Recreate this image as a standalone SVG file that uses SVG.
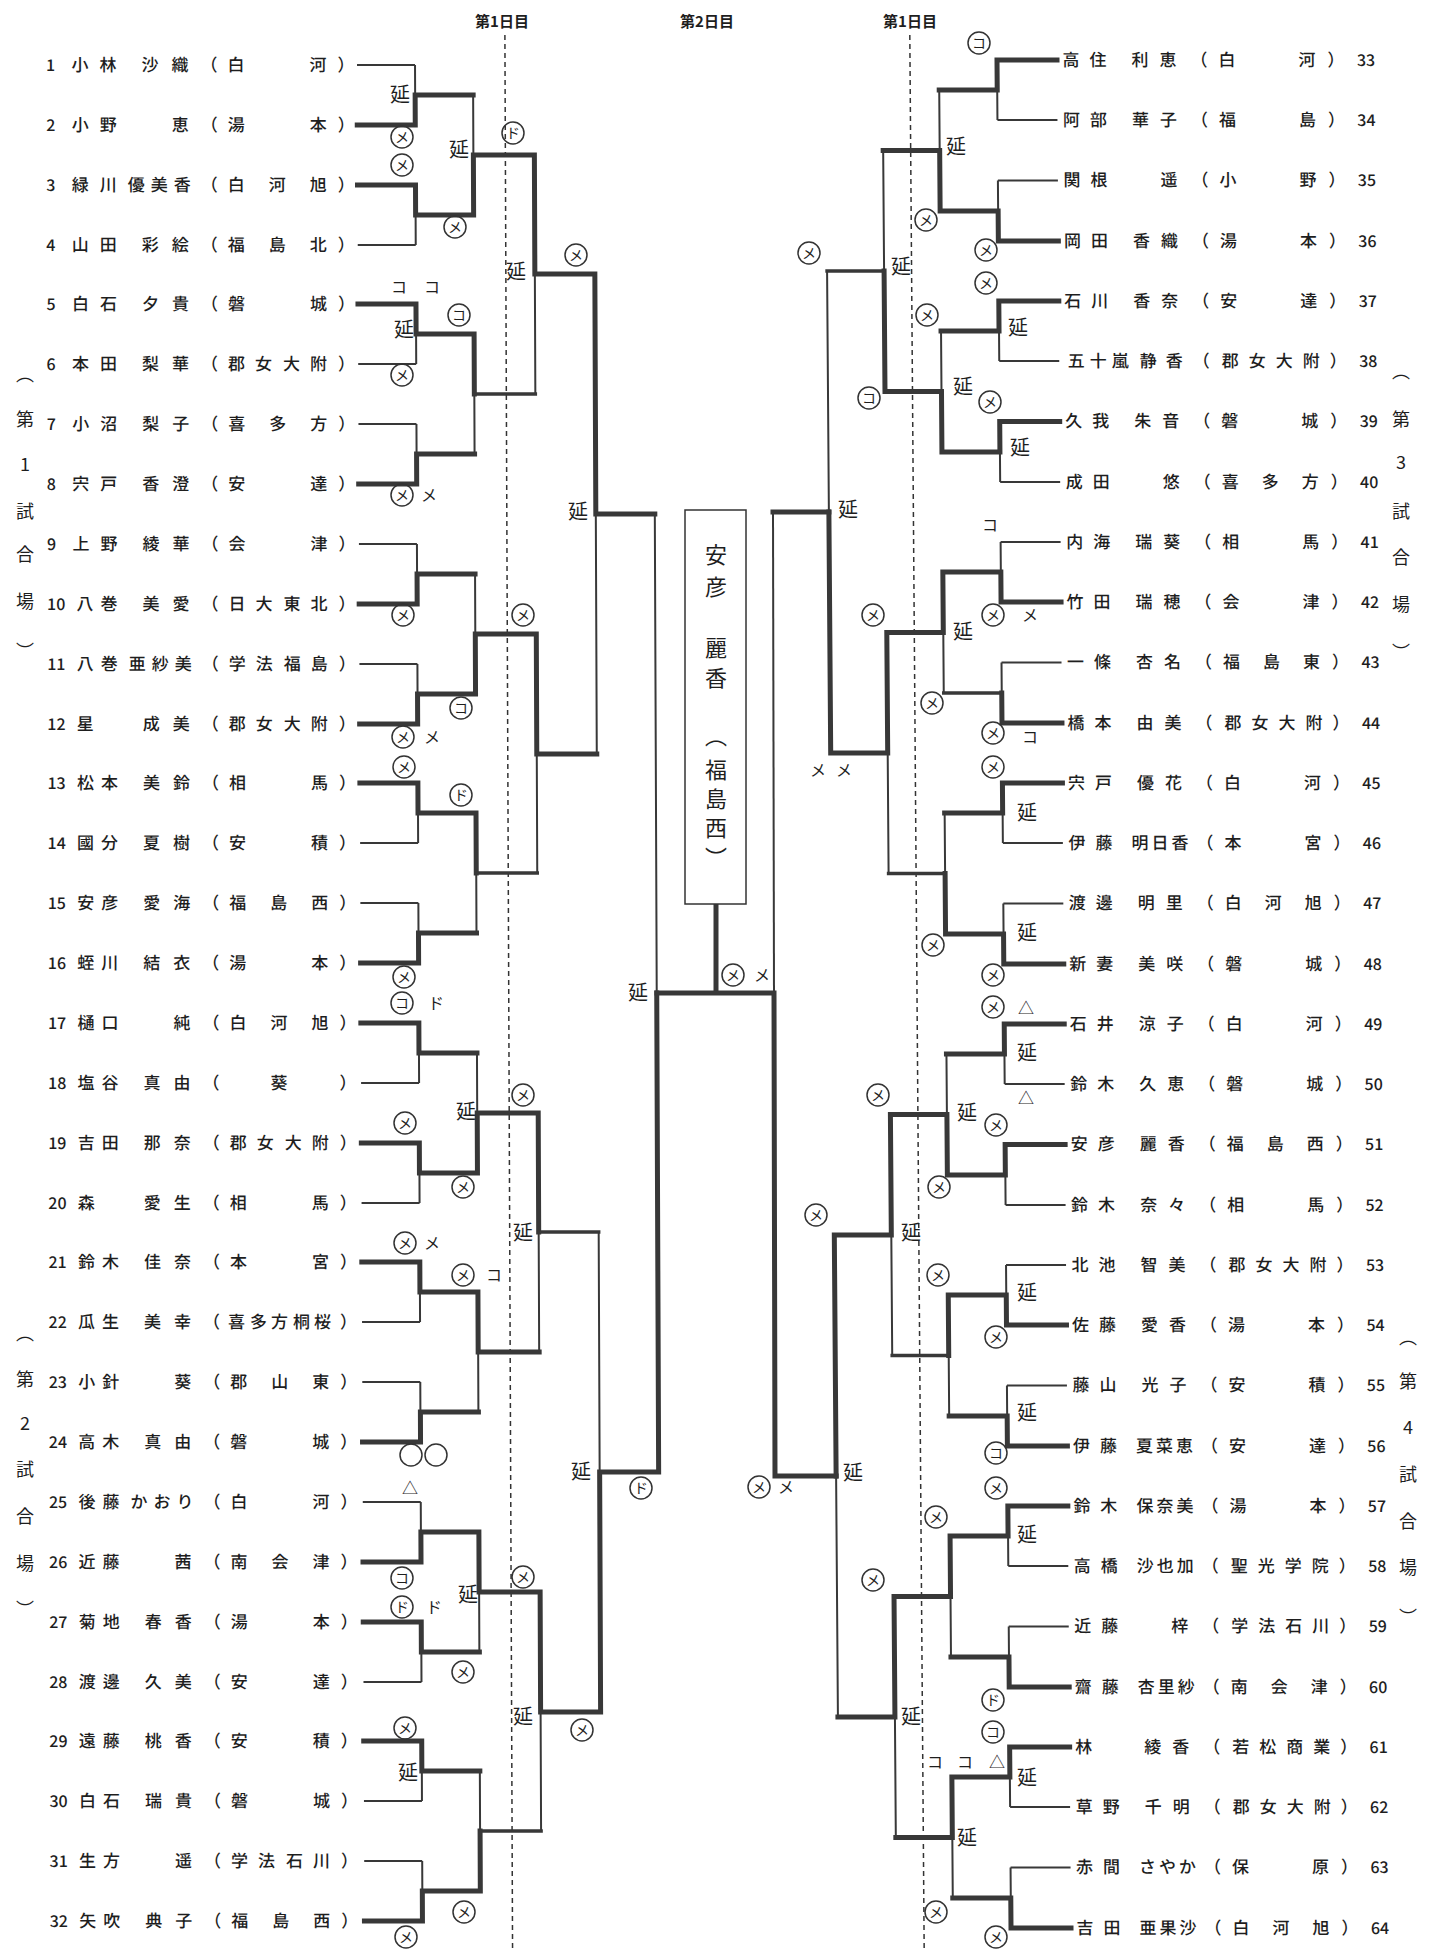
<svg xmlns="http://www.w3.org/2000/svg" width="1435" height="1949" viewBox="0 0 1435 1949">
<style>
.t{fill:none;stroke:#383838;stroke-width:2}
.k{fill:none;stroke:#383838;stroke-width:5;stroke-linecap:square}
.m{fill:none;stroke:#383838;stroke-width:3.5;stroke-linecap:square}
.d{fill:none;stroke:#333;stroke-width:1.5;stroke-dasharray:5 4}
text{font-family:"Noto Sans CJK JP","Noto Sans CJK SC",sans-serif;fill:#1e1e1e}
.nm{font-size:17px;text-anchor:middle;font-weight:500}
.no{font-size:16px;font-weight:500}
.nr{font-size:16px;text-anchor:middle;font-weight:500}
.hd{font-size:15px;font-weight:bold;text-anchor:middle}
.sd{font-size:18px;text-anchor:middle}
.en{font-size:20px;text-anchor:middle}
.pm{font-size:16px;text-anchor:middle}
.cm circle,.oo{fill:none;stroke:#333;stroke-width:1.5}
.cm text{font-size:14px;text-anchor:middle}
.bx{font-size:22px;text-anchor:middle}
</style>
<rect width="1435" height="1949" fill="#fff"/>

<g id="headers">
<text class="hd" x="502" y="27">第1日目</text>
<text class="hd" x="707" y="27">第2日目</text>
<text class="hd" x="910" y="27">第1日目</text>
</g>

<g id="connectors">
<g id="left-bracket" transform="matrix(1 0 0.004 1 -0.24 0)">
<path class="d" d="M505 35V1949"/>
<path class="t" d="M357 65H415M357 245H415M357 364H415M357 424H415M357 544H415M357 664H415M357 843H415M357 903H415M357 1083H415M357 1203H415M357 1322H415M357 1382H415M357 1502H415M357 1682H415M357 1801H415M357 1861H415
M415 65V125M415 185V245M415 304V364M415 424V484M415 544V604M415 664V724M415 783V843M415 903V963M415 1023V1083M415 1143V1203M415 1262V1322M415 1382V1442M415 1502V1562M415 1622V1682M415 1741V1801M415 1861V1921
M473 95V215M473 334V454M473 574V694M473 813V933M473 1053V1173M473 1292V1412M473 1532V1652M473 1771V1891
M534 155V394M534 634V873M534 1113V1352M534 1592V1831
M594 274V754M594 1232V1712
M653 514V1472"/>
<path class="k" d="M357 125H415V95H473M357 185H415V215H473M357 304H415V334H473M357 484H415V454H473M357 604H415V574H473M357 724H415V694H473M357 783H415V813H473M357 963H415V933H473M357 1023H415V1053H473M357 1143H415V1173H473M357 1262H415V1292H473M357 1442H415V1412H473M357 1562H415V1532H473M357 1622H415V1652H473M357 1741H415V1771H473M357 1921H415V1891H473
M473 215V155H534M473 334V394M473 694V634H534M473 813V873M473 1173V1113H534M473 1292V1352H534M473 1532V1592H534M473 1891V1831
M534 155V274H594M534 634V754H594M534 1113V1232M534 1592V1712H594
M594 274V514H653M594 1712V1472H653V993"/>
<path class="m" d="M473 394H534M473 873H534M473 1831H534M534 1232H594"/>
</g>
<g id="right-bracket" transform="matrix(1 0 0.0075 1 -0.45 0)">
<path class="d" d="M910 35V1949"/>
<path class="t" d="M1057 120H997M1057 180.5H997M1057 361H997M1057 482H997M1057 542H997M1057 662.5H997M1057 843H997M1057 903.5H997M1057 1084H997M1057 1205H997M1057 1265H997M1057 1385.5H997M1057 1566H997M1057 1626.5H997M1057 1807H997M1057 1867.5H997
M997 60V120M997 180.5V241M997 301V361M997 421.5V482M997 542V602M997 662.5V723M997 783V843M997 903.5V964M997 1024V1084M997 1144.5V1205M997 1265V1325M997 1385.5V1446M997 1506V1566M997 1626.5V1687M997 1747V1807M997 1867.5V1928
M939 90V211M939 331V452M939 572V693M939 813V934M939 1054V1175M939 1295V1416M939 1536V1657M939 1777V1898
M882.5 150.5V391.5M882.5 632.5V873.5M882.5 1114.5V1355.5M882.5 1596.5V1837.5
M825.5 271V753M825.5 1235V1717"/>
<path class="k" d="M1057 60H997V90H939M1057 241H997V211H939M1057 301H997V331H939M1057 421.5H997V452H939M1057 602H997V572H939M1057 723H997V693M1057 783H997V813H939M1057 964H997V934H939M1057 1024H997V1054H939M1057 1144.5H997V1175H939M1057 1325H997V1295H939M1057 1446H997V1416H939M1057 1506H997V1536H939M1057 1687H997V1657H939M1057 1747H997V1777H939M1057 1928H997V1898H939
M939 211V150.5H882.5M939 452V391.5H882.5M939 572V632.5H882.5M939 934V873.5M939 1175V1114.5H882.5M939 1295V1355.5M939 1536V1596.5H882.5M939 1777V1837.5H882.5
M882.5 391.5V271M882.5 632.5V753H825.5M882.5 1114.5V1235H825.5M882.5 1596.5V1717H825.5
M825.5 753V512M825.5 1235V1476"/>
<path class="m" d="M997 693H939M939 873.5H882.5M939 1355.5H882.5M882.5 271H825.5"/>
</g>
<g id="final">
<path class="t" d="M773 512L774 993"/>
<path class="k" d="M828.9 512H773M836.1 1476H775L774 993M657 993H774M716 904V993"/>
</g>
</g>

<g id="champion">
<rect x="685" y="510" width="61" height="394" fill="#fff" stroke="#333" stroke-width="1.5"/>
<text class="bx" x="716" y="563">安</text>
<text class="bx" x="716" y="595">彦</text>
<text class="bx" x="716" y="656">麗</text>
<text class="bx" x="716" y="686">香</text>
<text class="bx" x="716" y="744">︵</text>
<text class="bx" x="716" y="778">福</text>
<text class="bx" x="716" y="807">島</text>
<text class="bx" x="716" y="836">西</text>
<text class="bx" x="716" y="866">︶</text>
</g>

<g id="venue-labels">
<g id="venue1"><text class="sd" x="25" y="381">︵</text><text class="sd" x="25" y="426">第</text><text class="sd" x="25" y="471">1</text><text class="sd" x="25" y="518">試</text><text class="sd" x="25" y="561">合</text><text class="sd" x="25" y="608">場</text><text class="sd" x="25" y="658">︶</text></g>
<g id="venue2"><text class="sd" x="25" y="1340">︵</text><text class="sd" x="25" y="1386">第</text><text class="sd" x="25" y="1430">2</text><text class="sd" x="25" y="1476">試</text><text class="sd" x="25" y="1523">合</text><text class="sd" x="25" y="1570">場</text><text class="sd" x="25" y="1616">︶</text></g>
<g id="venue3"><text class="sd" x="1401" y="378">︵</text><text class="sd" x="1401" y="426">第</text><text class="sd" x="1401" y="469">3</text><text class="sd" x="1401" y="518">試</text><text class="sd" x="1401" y="564">合</text><text class="sd" x="1401" y="611">場</text><text class="sd" x="1401" y="659">︶</text></g>
<g id="venue4"><text class="sd" x="1408" y="1344">︵</text><text class="sd" x="1408" y="1388">第</text><text class="sd" x="1408" y="1434">4</text><text class="sd" x="1408" y="1481">試</text><text class="sd" x="1408" y="1528">合</text><text class="sd" x="1408" y="1574">場</text><text class="sd" x="1408" y="1624">︶</text></g>
</g>

<g id="left-players" transform="matrix(1 0 0.002 1 -0.13 0)">
<g id="p1"><text class="no" x="46" y="71">1</text><text class="nm" x="80 108 150 180 209 236 318 346" y="71">小林沙織（白河）</text></g>
<g id="p2"><text class="no" x="46" y="131">2</text><text class="nm" x="80 108 180 209 236 318 346" y="131">小野恵（湯本）</text></g>
<g id="p3"><text class="no" x="46" y="191">3</text><text class="nm" x="80 108 136 159 182 209 236 277 318 346" y="191">緑川優美香（白河旭）</text></g>
<g id="p4"><text class="no" x="46" y="251">4</text><text class="nm" x="80 108 150 180 209 236 277 318 346" y="251">山田彩絵（福島北）</text></g>
<g id="p5"><text class="no" x="46" y="310">5</text><text class="nm" x="80 108 150 180 209 236 318 346" y="310">白石夕貴（磐城）</text></g>
<g id="p6"><text class="no" x="46" y="370">6</text><text class="nm" x="80 108 150 180 209 236 263 291 318 346" y="370">本田梨華（郡女大附）</text></g>
<g id="p7"><text class="no" x="46" y="430">7</text><text class="nm" x="80 108 150 180 209 236 277 318 346" y="430">小沼梨子（喜多方）</text></g>
<g id="p8"><text class="no" x="46" y="490">8</text><text class="nm" x="80 108 150 180 209 236 318 346" y="490">宍戸香澄（安達）</text></g>
<g id="p9"><text class="no" x="46" y="550">9</text><text class="nm" x="80 108 150 180 209 236 318 346" y="550">上野綾華（会津）</text></g>
<g id="p10"><text class="no" x="46" y="610">10</text><text class="nm" x="84 108 150 180 209 236 263 291 318 346" y="610">八巻美愛（日大東北）</text></g>
<g id="p11"><text class="no" x="46" y="670">11</text><text class="nm" x="84 108 136 159 182 209 236 263 291 318 346" y="670">八巻亜紗美（学法福島）</text></g>
<g id="p12"><text class="no" x="46" y="730">12</text><text class="nm" x="84 150 180 209 236 263 291 318 346" y="730">星成美（郡女大附）</text></g>
<g id="p13"><text class="no" x="46" y="789">13</text><text class="nm" x="84 108 150 180 209 236 318 346" y="789">松本美鈴（相馬）</text></g>
<g id="p14"><text class="no" x="46" y="849">14</text><text class="nm" x="84 108 150 180 209 236 318 346" y="849">國分夏樹（安積）</text></g>
<g id="p15"><text class="no" x="46" y="909">15</text><text class="nm" x="84 108 150 180 209 236 277 318 346" y="909">安彦愛海（福島西）</text></g>
<g id="p16"><text class="no" x="46" y="969">16</text><text class="nm" x="84 108 150 180 209 236 318 346" y="969">蛭川結衣（湯本）</text></g>
<g id="p17"><text class="no" x="46" y="1029">17</text><text class="nm" x="84 108 180 209 236 277 318 346" y="1029">樋口純（白河旭）</text></g>
<g id="p18"><text class="no" x="46" y="1089">18</text><text class="nm" x="84 108 150 180 209 277 346" y="1089">塩谷真由（葵）</text></g>
<g id="p19"><text class="no" x="46" y="1149">19</text><text class="nm" x="84 108 150 180 209 236 263 291 318 346" y="1149">吉田那奈（郡女大附）</text></g>
<g id="p20"><text class="no" x="46" y="1209">20</text><text class="nm" x="84 150 180 209 236 318 346" y="1209">森愛生（相馬）</text></g>
<g id="p21"><text class="no" x="46" y="1268">21</text><text class="nm" x="84 108 150 180 209 236 318 346" y="1268">鈴木佳奈（本宮）</text></g>
<g id="p22"><text class="no" x="46" y="1328">22</text><text class="nm" x="84 108 150 180 209 234 256 277 299 320 346" y="1328">瓜生美幸（喜多方桐桜）</text></g>
<g id="p23"><text class="no" x="46" y="1388">23</text><text class="nm" x="84 108 180 209 236 277 318 346" y="1388">小針葵（郡山東）</text></g>
<g id="p24"><text class="no" x="46" y="1448">24</text><text class="nm" x="84 108 150 180 209 236 318 346" y="1448">高木真由（磐城）</text></g>
<g id="p25"><text class="no" x="46" y="1508">25</text><text class="nm" x="84 108 136 159 182 209 236 318 346" y="1508">後藤かおり（白河）</text></g>
<g id="p26"><text class="no" x="46" y="1568">26</text><text class="nm" x="84 108 180 209 236 277 318 346" y="1568">近藤茜（南会津）</text></g>
<g id="p27"><text class="no" x="46" y="1628">27</text><text class="nm" x="84 108 150 180 209 236 318 346" y="1628">菊地春香（湯本）</text></g>
<g id="p28"><text class="no" x="46" y="1688">28</text><text class="nm" x="84 108 150 180 209 236 318 346" y="1688">渡邊久美（安達）</text></g>
<g id="p29"><text class="no" x="46" y="1747">29</text><text class="nm" x="84 108 150 180 209 236 318 346" y="1747">遠藤桃香（安積）</text></g>
<g id="p30"><text class="no" x="46" y="1807">30</text><text class="nm" x="84 108 150 180 209 236 318 346" y="1807">白石瑞貴（磐城）</text></g>
<g id="p31"><text class="no" x="46" y="1867">31</text><text class="nm" x="84 108 180 209 236 263 291 318 346" y="1867">生方遥（学法石川）</text></g>
<g id="p32"><text class="no" x="46" y="1927">32</text><text class="nm" x="84 108 150 180 209 236 277 318 346" y="1927">矢吹典子（福島西）</text></g>
</g>

<g id="right-players" transform="matrix(1 0 0.0075 1 -0.45 0)">
<g id="p33"><text class="nm" x="1071 1098 1140 1168 1199 1227 1307 1336" y="66">高住利恵（白河）</text><text class="nr" x="1366" y="66">33</text></g>
<g id="p34"><text class="nm" x="1071 1098 1140 1168 1199 1227 1307 1336" y="126">阿部華子（福島）</text><text class="nr" x="1366" y="126">34</text></g>
<g id="p35"><text class="nm" x="1071 1098 1168 1199 1227 1307 1336" y="186.5">関根遥（小野）</text><text class="nr" x="1366" y="186.5">35</text></g>
<g id="p36"><text class="nm" x="1071 1098 1140 1168 1199 1227 1307 1336" y="247">岡田香織（湯本）</text><text class="nr" x="1366" y="247">36</text></g>
<g id="p37"><text class="nm" x="1071 1098 1140 1168 1199 1227 1307 1336" y="307">石川香奈（安達）</text><text class="nr" x="1366" y="307">37</text></g>
<g id="p38"><text class="nm" x="1074 1096 1118 1146 1172 1199 1228 1255 1282 1309 1336" y="367">五十嵐静香（郡女大附）</text><text class="nr" x="1366" y="367">38</text></g>
<g id="p39"><text class="nm" x="1071 1098 1140 1168 1199 1227 1307 1336" y="427.5">久我朱音（磐城）</text><text class="nr" x="1366" y="427.5">39</text></g>
<g id="p40"><text class="nm" x="1071 1098 1168 1199 1227 1267 1307 1336" y="488">成田悠（喜多方）</text><text class="nr" x="1366" y="488">40</text></g>
<g id="p41"><text class="nm" x="1071 1098 1140 1168 1199 1227 1307 1336" y="548">内海瑞葵（相馬）</text><text class="nr" x="1366" y="548">41</text></g>
<g id="p42"><text class="nm" x="1071 1098 1140 1168 1199 1227 1307 1336" y="608">竹田瑞穂（会津）</text><text class="nr" x="1366" y="608">42</text></g>
<g id="p43"><text class="nm" x="1071 1098 1140 1168 1199 1227 1267 1307 1336" y="668.5">一條杏名（福島東）</text><text class="nr" x="1366" y="668.5">43</text></g>
<g id="p44"><text class="nm" x="1071 1098 1140 1168 1199 1228 1255 1282 1309 1336" y="729">橋本由美（郡女大附）</text><text class="nr" x="1366" y="729">44</text></g>
<g id="p45"><text class="nm" x="1071 1098 1140 1168 1199 1227 1307 1336" y="789">宍戸優花（白河）</text><text class="nr" x="1366" y="789">45</text></g>
<g id="p46"><text class="nm" x="1071 1098 1134 1154 1174 1199 1227 1307 1336" y="849">伊藤明日香（本宮）</text><text class="nr" x="1366" y="849">46</text></g>
<g id="p47"><text class="nm" x="1071 1098 1140 1168 1199 1227 1267 1307 1336" y="909.5">渡邊明里（白河旭）</text><text class="nr" x="1366" y="909.5">47</text></g>
<g id="p48"><text class="nm" x="1071 1098 1140 1168 1199 1227 1307 1336" y="970">新妻美咲（磐城）</text><text class="nr" x="1366" y="970">48</text></g>
<g id="p49"><text class="nm" x="1071 1098 1140 1168 1199 1227 1307 1336" y="1030">石井涼子（白河）</text><text class="nr" x="1366" y="1030">49</text></g>
<g id="p50"><text class="nm" x="1071 1098 1140 1168 1199 1227 1307 1336" y="1090">鈴木久恵（磐城）</text><text class="nr" x="1366" y="1090">50</text></g>
<g id="p51"><text class="nm" x="1071 1098 1140 1168 1199 1227 1267 1307 1336" y="1150.5">安彦麗香（福島西）</text><text class="nr" x="1366" y="1150.5">51</text></g>
<g id="p52"><text class="nm" x="1071 1098 1140 1168 1199 1227 1307 1336" y="1211">鈴木奈々（相馬）</text><text class="nr" x="1366" y="1211">52</text></g>
<g id="p53"><text class="nm" x="1071 1098 1140 1168 1199 1228 1255 1282 1309 1336" y="1271">北池智美（郡女大附）</text><text class="nr" x="1366" y="1271">53</text></g>
<g id="p54"><text class="nm" x="1071 1098 1140 1168 1199 1227 1307 1336" y="1331">佐藤愛香（湯本）</text><text class="nr" x="1366" y="1331">54</text></g>
<g id="p55"><text class="nm" x="1071 1098 1140 1168 1199 1227 1307 1336" y="1391.5">藤山光子（安積）</text><text class="nr" x="1366" y="1391.5">55</text></g>
<g id="p56"><text class="nm" x="1071 1098 1134 1154 1174 1199 1227 1307 1336" y="1452">伊藤夏菜恵（安達）</text><text class="nr" x="1366" y="1452">56</text></g>
<g id="p57"><text class="nm" x="1071 1098 1134 1154 1174 1199 1227 1307 1336" y="1512">鈴木保奈美（湯本）</text><text class="nr" x="1366" y="1512">57</text></g>
<g id="p58"><text class="nm" x="1071 1098 1134 1154 1174 1199 1228 1255 1282 1309 1336" y="1572">高橋沙也加（聖光学院）</text><text class="nr" x="1366" y="1572">58</text></g>
<g id="p59"><text class="nm" x="1071 1098 1168 1199 1228 1255 1282 1309 1336" y="1632.5">近藤梓（学法石川）</text><text class="nr" x="1366" y="1632.5">59</text></g>
<g id="p60"><text class="nm" x="1071 1098 1134 1154 1174 1199 1227 1267 1307 1336" y="1693">齋藤杏里紗（南会津）</text><text class="nr" x="1366" y="1693">60</text></g>
<g id="p61"><text class="nm" x="1071 1140 1168 1199 1228 1255 1282 1309 1336" y="1753">林綾香（若松商業）</text><text class="nr" x="1366" y="1753">61</text></g>
<g id="p62"><text class="nm" x="1071 1098 1140 1168 1199 1228 1255 1282 1309 1336" y="1813">草野千明（郡女大附）</text><text class="nr" x="1366" y="1813">62</text></g>
<g id="p63"><text class="nm" x="1071 1098 1134 1154 1174 1199 1227 1307 1336" y="1873.5">赤間さやか（保原）</text><text class="nr" x="1366" y="1873.5">63</text></g>
<g id="p64"><text class="nm" x="1071 1098 1134 1154 1174 1199 1227 1267 1307 1336" y="1934">吉田亜果沙（白河旭）</text><text class="nr" x="1366" y="1934">64</text></g>
</g>

<g id="marks">
<g class="cm">
<circle cx="402" cy="137" r="11"/><text x="402" y="142">メ</text>
<circle cx="402" cy="165" r="11"/><text x="402" y="170">メ</text>
<circle cx="455" cy="227" r="11"/><text x="455" y="232">メ</text>
<circle cx="576" cy="255" r="11"/><text x="576" y="260">メ</text>
<circle cx="402" cy="375" r="11"/><text x="402" y="380">メ</text>
<circle cx="402" cy="495" r="11"/><text x="402" y="500">メ</text>
<circle cx="403" cy="615" r="11"/><text x="403" y="620">メ</text>
<circle cx="523" cy="615" r="11"/><text x="523" y="620">メ</text>
<circle cx="403" cy="737" r="11"/><text x="403" y="742">メ</text>
<circle cx="404" cy="767" r="11"/><text x="404" y="772">メ</text>
<circle cx="404" cy="977" r="11"/><text x="404" y="982">メ</text>
<circle cx="523" cy="1095" r="11"/><text x="523" y="1100">メ</text>
<circle cx="405" cy="1123" r="11"/><text x="405" y="1128">メ</text>
<circle cx="463" cy="1187" r="11"/><text x="463" y="1192">メ</text>
<circle cx="405" cy="1243" r="11"/><text x="405" y="1248">メ</text>
<circle cx="463" cy="1275" r="11"/><text x="463" y="1280">メ</text>
<circle cx="523" cy="1577" r="11"/><text x="523" y="1582">メ</text>
<circle cx="463" cy="1672" r="11"/><text x="463" y="1677">メ</text>
<circle cx="405" cy="1728" r="11"/><text x="405" y="1733">メ</text>
<circle cx="582" cy="1730" r="11"/><text x="582" y="1735">メ</text>
<circle cx="464" cy="1912" r="11"/><text x="464" y="1917">メ</text>
<circle cx="406" cy="1937" r="11"/><text x="406" y="1942">メ</text>
<circle cx="733" cy="975" r="11"/><text x="733" y="980">メ</text>
<circle cx="459" cy="315" r="11"/><text x="459" y="320">コ</text>
<circle cx="461" cy="708" r="11"/><text x="461" y="713">コ</text>
<circle cx="402" cy="1003" r="11"/><text x="402" y="1008">コ</text>
<circle cx="402" cy="1578" r="11"/><text x="402" y="1583">コ</text>
<circle cx="513" cy="133" r="11"/><text x="513" y="138">ド</text>
<circle cx="461" cy="795" r="11"/><text x="461" y="800">ド</text>
<circle cx="402" cy="1607" r="11"/><text x="402" y="1612">ド</text>
<circle cx="641" cy="1488" r="11"/><text x="641" y="1493">ド</text>
<circle cx="809" cy="253" r="11"/><text x="809" y="258">メ</text>
<circle cx="926" cy="220" r="11"/><text x="926" y="225">メ</text>
<circle cx="986" cy="250" r="11"/><text x="986" y="255">メ</text>
<circle cx="986" cy="283" r="11"/><text x="986" y="288">メ</text>
<circle cx="927" cy="315" r="11"/><text x="927" y="320">メ</text>
<circle cx="990" cy="402" r="11"/><text x="990" y="407">メ</text>
<circle cx="873" cy="615" r="11"/><text x="873" y="620">メ</text>
<circle cx="993" cy="615" r="11"/><text x="993" y="620">メ</text>
<circle cx="932" cy="703" r="11"/><text x="932" y="708">メ</text>
<circle cx="993" cy="733" r="11"/><text x="993" y="738">メ</text>
<circle cx="993" cy="767" r="11"/><text x="993" y="772">メ</text>
<circle cx="933" cy="945" r="11"/><text x="933" y="950">メ</text>
<circle cx="993" cy="975" r="11"/><text x="993" y="980">メ</text>
<circle cx="993" cy="1007" r="11"/><text x="993" y="1012">メ</text>
<circle cx="878" cy="1095" r="11"/><text x="878" y="1100">メ</text>
<circle cx="996" cy="1125" r="11"/><text x="996" y="1130">メ</text>
<circle cx="939" cy="1187" r="11"/><text x="939" y="1192">メ</text>
<circle cx="816" cy="1215" r="11"/><text x="816" y="1220">メ</text>
<circle cx="938" cy="1275" r="11"/><text x="938" y="1280">メ</text>
<circle cx="996" cy="1337" r="11"/><text x="996" y="1342">メ</text>
<circle cx="759" cy="1487" r="11"/><text x="759" y="1492">メ</text>
<circle cx="996" cy="1488" r="11"/><text x="996" y="1493">メ</text>
<circle cx="936" cy="1517" r="11"/><text x="936" y="1522">メ</text>
<circle cx="873" cy="1580" r="11"/><text x="873" y="1585">メ</text>
<circle cx="936" cy="1912" r="11"/><text x="936" y="1917">メ</text>
<circle cx="996" cy="1937" r="11"/><text x="996" y="1942">メ</text>
<circle cx="979" cy="43" r="11"/><text x="979" y="48">コ</text>
<circle cx="869" cy="398" r="11"/><text x="869" y="403">コ</text>
<circle cx="996" cy="1453" r="11"/><text x="996" y="1458">コ</text>
<circle cx="993" cy="1732" r="11"/><text x="993" y="1737">コ</text>
<circle cx="993" cy="1700" r="11"/><text x="993" y="1705">ド</text>
</g>
<circle class="oo" cx="411" cy="1455" r="11"/>
<circle class="oo" cx="436" cy="1455" r="11"/>
<g class="plain">
<text class="pm" x="429" y="501">メ</text>
<text class="pm" x="432" y="743">メ</text>
<text class="pm" x="432" y="1249">メ</text>
<text class="pm" x="762" y="981">メ</text>
<text class="pm" x="399" y="293">コ</text>
<text class="pm" x="432" y="293">コ</text>
<text class="pm" x="494" y="1281">コ</text>
<text class="pm" x="436" y="1009">ド</text>
<text class="pm" x="434" y="1613">ド</text>
<text class="pm" x="1030" y="621">メ</text>
<text class="pm" x="818" y="776">メ</text>
<text class="pm" x="844" y="776">メ</text>
<text class="pm" x="786" y="1493">メ</text>
<text class="pm" x="990" y="531">コ</text>
<text class="pm" x="1030" y="743">コ</text>
<text class="pm" x="935" y="1768">コ</text>
<text class="pm" x="965" y="1768">コ</text>
<text class="pm" x="410" y="1494">△</text>
<text class="pm" x="1026" y="1014">△</text>
<text class="pm" x="1026" y="1104">△</text>
<text class="pm" x="997" y="1768">△</text>
</g>
<g class="ext">
<text class="en" x="400" y="102">延</text>
<text class="en" x="459" y="157">延</text>
<text class="en" x="516" y="279">延</text>
<text class="en" x="404" y="337">延</text>
<text class="en" x="578" y="519">延</text>
<text class="en" x="466" y="1119">延</text>
<text class="en" x="523" y="1240">延</text>
<text class="en" x="468" y="1602">延</text>
<text class="en" x="408" y="1780">延</text>
<text class="en" x="523" y="1724">延</text>
<text class="en" x="581" y="1479">延</text>
<text class="en" x="638" y="1000">延</text>
<text class="en" x="956" y="154">延</text>
<text class="en" x="901" y="274">延</text>
<text class="en" x="1018" y="335">延</text>
<text class="en" x="963" y="394">延</text>
<text class="en" x="1020" y="455">延</text>
<text class="en" x="848" y="517">延</text>
<text class="en" x="963" y="639">延</text>
<text class="en" x="1027" y="820">延</text>
<text class="en" x="1027" y="940">延</text>
<text class="en" x="1027" y="1060">延</text>
<text class="en" x="967" y="1120">延</text>
<text class="en" x="911" y="1240">延</text>
<text class="en" x="1027" y="1300">延</text>
<text class="en" x="1027" y="1420">延</text>
<text class="en" x="853" y="1480">延</text>
<text class="en" x="1027" y="1542">延</text>
<text class="en" x="911" y="1724">延</text>
<text class="en" x="1027" y="1785">延</text>
<text class="en" x="967" y="1845">延</text>
</g>
</g>
</svg>
